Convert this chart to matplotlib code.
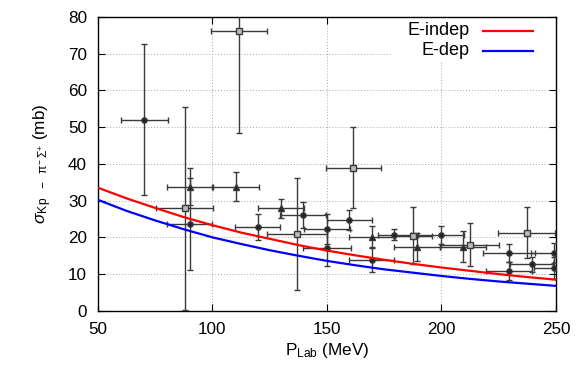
import matplotlib
matplotlib.use('Agg')
import matplotlib.pyplot as plt
from matplotlib.patches import Rectangle

plt.rcParams['font.family'] = ['Liberation Sans', 'DejaVu Sans']
plt.rcParams['mathtext.fontset'] = 'custom'
plt.rcParams['mathtext.rm'] = 'Liberation Sans'
plt.rcParams['mathtext.it'] = 'Liberation Sans:italic'

# model curves
p_curve = [50, 62.5, 75, 87.5, 100, 112.5, 125, 137.5, 150, 162.5, 175, 187.5, 200, 212.5, 225, 237.5, 250]
sigma_indep = [33.5, 30.6, 28.0, 25.5, 23.3, 21.3, 19.6, 17.9, 16.4, 15.1, 13.9, 12.8, 11.8, 10.9, 10.0, 9.2, 8.5]
sigma_dep = [30.2, 27.2, 24.6, 22.2, 20.0, 18.2, 16.5, 15.0, 13.6, 12.4, 11.3, 10.4, 9.5, 8.7, 8.0, 7.4, 6.8]
curve_labels = ['E-indep', 'E-dep']

# data, circles
p_circ = [70.2, 90.0, 119.7, 139.7, 149.9, 149.9, 159.8, 169.5, 179.5, 199.8, 229.5, 229.5, 239.4, 249.3, 249.3]
s_circ = [52.0, 23.6, 22.9, 26.1, 22.3, 17.1, 24.7, 13.9, 20.7, 20.7, 15.8, 10.8, 12.7, 15.7, 11.6]
dp_circ = [10.2, 10, 10, 10, 10, 10.5, 10, 10, 7, 10, 11.5, 10, 9.5, 10, 9]
ds_circ = [20.6, 12.6, 3.5, 3.5, 4, 5, 2.7, 3.4, 1.5, 2.4, 2.5, 2.4, 2, 2.7, 3]

# data, triangles
p_tri = [90.0, 110.1, 129.8, 169.5, 189.3, 209.3]
s_tri = [33.8, 33.8, 27.9, 20.1, 17.4, 17.5]
dp_tri = [10, 10, 10, 10, 10, 10]
ds_tri = [5, 4, 2.5, 3, 3.7, 4.3]

# data, squares
p_sq = [87.8, 111.7, 136.8, 161.5, 187.7, 212.4, 237.2]
s_sq = [27.9, 76.1, 20.9, 39.0, 20.5, 18.0, 21.3]
dp_sq = [12.6, 12.2, 13, 12, 8, 12.8, 12.6]
ds_sq = [27.7, 27.6, 15.2, 11, 7.7, 5.9, 6.9]

fig = plt.figure(figsize=(5.87, 3.75), dpi=100)
ax = fig.add_axes([0.167, 0.171, 0.780, 0.784])

ecol = '#3a3a3a'
common = dict(ls='none', ecolor=ecol, elinewidth=1, capsize=2.2, capthick=1, markersize=3.8, zorder=3)
ax.errorbar(p_circ, s_circ, xerr=dp_circ, yerr=ds_circ, fmt='o', mfc='#222222', mec=ecol, **common)
ax.errorbar(p_tri, s_tri, xerr=dp_tri, yerr=ds_tri, fmt='^', mfc='#222222', mec=ecol, **common)
ax.errorbar(p_sq, s_sq, xerr=dp_sq, yerr=ds_sq, fmt='s', mfc='#bbbbbb', mec=ecol, **common)

colors = ['#ff0000', '#0000ff']
ax.plot(p_curve, sigma_indep, color=colors[0], lw=1.6, zorder=4)
ax.plot(p_curve, sigma_dep, color=colors[1], lw=1.6, zorder=4)

ax.set_xlim(50, 250)
ax.set_ylim(0, 80)
ax.set_xticks([50, 100, 150, 200, 250])
ax.set_yticks(range(0, 81, 10))
ax.grid(True, color='#aaaaaa', ls=(0, (1, 2)), lw=0.7)
ax.set_axisbelow(True)
ax.tick_params(direction='in', top=True, right=True, length=5, width=0.8, labelsize=12.3, pad=8)
for s in ax.spines.values():
    s.set_linewidth(1.0)

ax.set_xlabel(r'P$_{\mathrm{Lab}}$ (MeV)', fontsize=12.3, labelpad=3)
ax.set_ylabel(r'$\sigma_{\mathrm{K\,p\ \ -\ \ \pi^{-}\,\Sigma^{+}}}$ (mb)', fontsize=12.3, labelpad=10)

# gnuplot-style key: text right-aligned, sample line to the right, white box behind
ax.add_patch(Rectangle((0.64, 0.845), 0.36, 0.155, transform=ax.transAxes,
                       facecolor='white', edgecolor='none', zorder=1))
for i, (lab, c) in enumerate(zip(curve_labels, colors)):
    yy = 0.953 - i * 0.068
    ax.text(0.812, yy, lab, transform=ax.transAxes, ha='right', va='center', fontsize=13, zorder=5)
    ax.plot([0.841, 0.950], [yy, yy], transform=ax.transAxes, color=c, lw=1.6, zorder=5)

plt.savefig('out.png', dpi=100)
